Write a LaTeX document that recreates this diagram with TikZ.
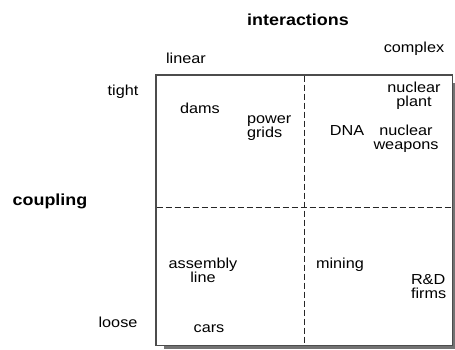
\documentclass[tikz,border=0pt]{standalone}
\usepackage{fontspec}
\setmainfont{Liberation Sans}[FakeStretch=1.12]
\begin{document}
\begin{tikzpicture}[x=1pt,y=-1pt,
  every node/.style={inner sep=0pt,outer sep=0pt,font=\fontsize{14.5}{13.8}\selectfont},
  heading/.style={font=\fontsize{16}{16}\selectfont\bfseries},
  item/.style={anchor=base,align=center},
  itemleft/.style={anchor=base west,align=left},
  divider/.style={dash pattern=on 6pt off 3pt,line width=1pt,black!85},
  frame/.style={draw=black!70,line width=1.4pt,fill=white},
  shade/.style={fill=black!55,draw=none}]
\useasboundingbox (0,0) rectangle (455,349);
% drop shadow and frame
\fill[shade] (164,83) rectangle (455.5,349);
\draw[frame] (156,75) rectangle (452.5,345.5);
% quadrant dividers
\coordinate (vt) at (304,75.7);
\coordinate (vb) at (304,344.8);
\coordinate (hl) at (156.7,207);
\coordinate (hr) at (451.8,207);
\draw[divider] (vt) -- (vb);
\draw[divider] (hl) -- (hr);
% axis labels
\node[heading,anchor=base] (interactions) at (298,25) {interactions};
\node[heading,anchor=base] (coupling) at (50,205.5) {coupling};
\node[item] (linear) at (186,63) {linear};
\node[item] (complex) at (414,52) {complex};
\node[item] (tight) at (123,95.5) {tight};
\node[item] (loose) at (118,327) {loose};
% systems (multi-line labels are placed by their last baseline)
\node[item] (dams) at (200,113) {dams};
\node[itemleft] (grids) at (247,137) {power\\grids};
\node[item] (dna) at (347,135) {DNA};
\node[item] (plant) at (414,106.5) {nuclear\\plant};
\node[item] (weapons) at (406,149.5) {nuclear\\weapons};
\node[item] (assembly) at (203,282.5) {assembly\\line};
\node[item] (cars) at (209,332) {cars};
\node[item] (mining) at (340,268) {mining};
\node[itemleft] (rd) at (411,298.5) {R\&D\\firms};
\end{tikzpicture}
\end{document}
